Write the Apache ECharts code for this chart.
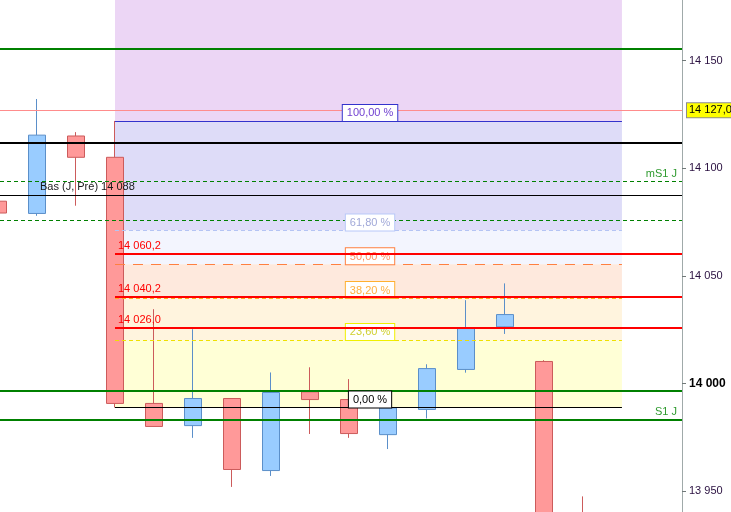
<!DOCTYPE html>
<html><head><meta charset="utf-8">
<script src="https://cdn.jsdelivr.net/npm/echarts@6/dist/echarts.min.js"></script>
<style>html,body{margin:0;padding:0;background:#fff}#c{width:731px;height:512px}</style>
</head><body><div id="c"></div>
<script>
// ---- data ----
const candleIdx = [0,1,2,3,4,5,6,7,8,9,10,11,12,13,14,15];
const opens  = [14084.7,14079.0,14115.0,14105.1,13990.7,13980.4,13993.0,13959.5,13996.1,13992.5,13976.2,13987.9,14006.5,14026.3,14010.2,13938.0];
const closes = [14079.2,14115.4,14105.1,13990.7,13980.0,13993.0,13960.0,13995.8,13992.5,13976.7,13988.6,14006.9,14025.5,14032.0,13925.0,13915.0];
const lows   = [14078.6,14077.9,14082.6,13988.8,13980.0,13974.7,13951.9,13957.0,13976.5,13974.7,13969.5,13983.7,14005.0,14023.0,13920.0,13910.0];
const highs  = [14085.4,14132.2,14116.8,14122.0,14034.5,14025.2,13993.0,14005.1,14007.5,14002.0,13992.0,14008.9,14038.7,14046.5,14010.8,13947.5];
const yTicks = [13950,14000,14050,14100,14150];
const fibHigh = 14122.0, fibLow = 13988.8;
const fibPercents = [100, 61.8, 50, 38.2, 23.6, 0];
const fibTexts = ['100,00 %','61,80 %','50,00 %','38,20 %','23,60 %','0,00 %'];
const redLevels = [14060.2, 14040.2, 14026.0];
const redTexts = ['14 060,2','14 040,2','14 026,0'];
const greenSolid = [14155.6, 13996.4, 13983.3];
const greenDashed = [14093.9, 14075.9];
const blackThick = 14111.7;
const basPrev = 14087.6;
const basText = 'Bas (J, Pré) 14 088';
const lastPrice = 14127.0;
const lastPriceText = '14 127,0';

// ---- layout/style ----
const FONT = 'Liberation Sans, Arial, sans-serif';
const xMin = 0.0513, xMax = 17.54;
const yMin = 13940.24, yMax = 14178.21;
const fibStart = 3, fibEnd = 16, fibLabelX = 9.54;
const fibVal = p => fibLow + p / 100 * (fibHigh - fibLow);
const fibLine = [
  {color:'#3333cc', type:'solid'},
  {color:'#b4c4f4', type:[4,3]},
  {color:'#ff8040', type:[10,8]},
  {color:'#ffaa22', type:[4,3]},
  {color:'#f0e000', type:[4,3]},
  {color:'#000000', type:'solid'}
];
const fibBox = [
  {border:'#3333cc', text:'#7040d0'},
  {border:'#b8c8f8', text:'#a0a8d8'},
  {border:'#ff8040', text:'#ff9060'},
  {border:'#ffb030', text:'#ffb040'},
  {border:'#f0f000', text:'#d0d030'},
  {border:'#000000', text:'#000000'}
];
const bandColors = ['#ecd6f5','#dedcf8','#f3f5fe','#fee9dd','#fff4de','#ffffd6'];

const candleData = candleIdx.map((x,i) => [x, opens[i], closes[i], lows[i], highs[i]]);

const areas = [];
const bandEdges = [yMax].concat(fibPercents.map(fibVal));
for (let i = 0; i < bandColors.length; i++) {
  areas.push([{xAxis: fibStart, yAxis: bandEdges[i], itemStyle:{color: bandColors[i]}},
              {xAxis: fibEnd, yAxis: bandEdges[i+1]}]);
}

const lines = [];
greenSolid.forEach((v,i) => lines.push({yAxis: v, lineStyle:{color:'#008000', width:2, type:'solid'},
  label: i === 2 ? {show:true, position:'insideEndTop', distance:[5,2], formatter:'S1 J', color:'#2e9a2e', fontSize:11, fontFamily:FONT} : {show:false}}));
greenDashed.forEach((v,i) => lines.push({yAxis: v, lineStyle:{color:'#008000', width:1, type:[4,3]},
  label: i === 0 ? {show:true, position:'insideEndTop', distance:[5,2], formatter:'mS1 J', color:'#2e9a2e', fontSize:11, fontFamily:FONT} : {show:false}}));
lines.push({yAxis: blackThick, lineStyle:{color:'#000', width:2, type:'solid'}, label:{show:false}});
lines.push({yAxis: basPrev, lineStyle:{color:'#000', width:1, type:'solid'},
  label:{show:true, position:'insideStartTop', distance:[40,2], formatter: basText, color:'#1a1a1a', fontSize:11, fontFamily:FONT}});
lines.push({yAxis: lastPrice, lineStyle:{color:'#ff8c8c', width:1, type:'solid'},
  label:{show:true, position:'end', distance:5, formatter: lastPriceText, color:'#000', fontSize:11, fontFamily:FONT,
    backgroundColor:'#ffff00', borderColor:'#8c8c8c', borderWidth:1, padding:[2,2,1,2]}});
fibPercents.forEach((p,i) => lines.push([
  {coord:[fibStart, fibVal(p)], lineStyle:{color: fibLine[i].color, width:1, type: fibLine[i].type}, label:{show:false}},
  {coord:[fibEnd, fibVal(p)]}
]));

const fibLabels = fibPercents.map((p,i) => ({
  coord:[fibLabelX, fibVal(p)], value: p,
  label:{show:true, position:'top', distance:0, formatter: fibTexts[i], color: fibBox[i].text, fontSize:11, fontFamily:FONT,
    backgroundColor:'#ffffff', borderColor: fibBox[i].border, borderWidth:1, padding:[3,4,2,4]}
}));

const redLines = redLevels.map((v,i) => [
  {coord:[fibStart, v], lineStyle:{color:'#ff0000', width:2, type:'solid'},
   label:{show:true, position:'insideStartTop', distance:[3,2], formatter: redTexts[i], color:'#ff0000', fontSize:11, fontFamily:FONT}},
  {coord:[xMax, v]}
]);

const chart = echarts.init(document.getElementById('c'), null, {renderer:'canvas'});
chart.setOption({
  animation:false,
  backgroundColor:'#ffffff',
  grid:{left:0, right:49, top:0, bottom:0},
  xAxis:{type:'value', min:xMin, max:xMax, show:false},
  yAxis:{type:'value', position:'right', min:yMin, max:yMax, scale:true,
    axisLine:{show:true, lineStyle:{color:'#a0aaaa', width:1}},
    axisTick:{show:true, length:4, customValues: yTicks, lineStyle:{color:'#707878'}},
    splitLine:{show:false},
    axisLabel:{customValues: yTicks, margin:7, color:'#2a1040', fontSize:11, fontFamily:FONT,
      formatter: v => { const s = String(Math.round(v)).replace(/\B(?=(\d{3})+(?!\d))/g, ' ');
        return v === 14000 ? '{b|' + s + '}' : s; },
      rich:{b:{fontWeight:'bold', fontSize:12, color:'#000', fontFamily:FONT}}}
  },
  series:[
    {type:'line', data:[], silent:true, markArea:{silent:true, z:1, data: areas}},
    {type:'candlestick', data: candleData, encode:{x:0, y:[1,2,3,4]}, barWidth:17, z:2,
      itemStyle:{color:'#99ccff', color0:'#ff9999', borderColor:'#5b8fc9', borderColor0:'#cc5b5b', borderWidth:1}},
    {type:'line', data:[], silent:true, markLine:{silent:true, symbol:'none', z:5, animation:false, data: lines}},
    {type:'line', data:[], silent:true, markPoint:{silent:true, symbol:'rect', symbolSize:0, z:6, data: fibLabels}},
    {type:'line', data:[], silent:true, markLine:{silent:true, symbol:'none', z:7, animation:false, data: redLines}}
  ]
});
</script></body></html>
